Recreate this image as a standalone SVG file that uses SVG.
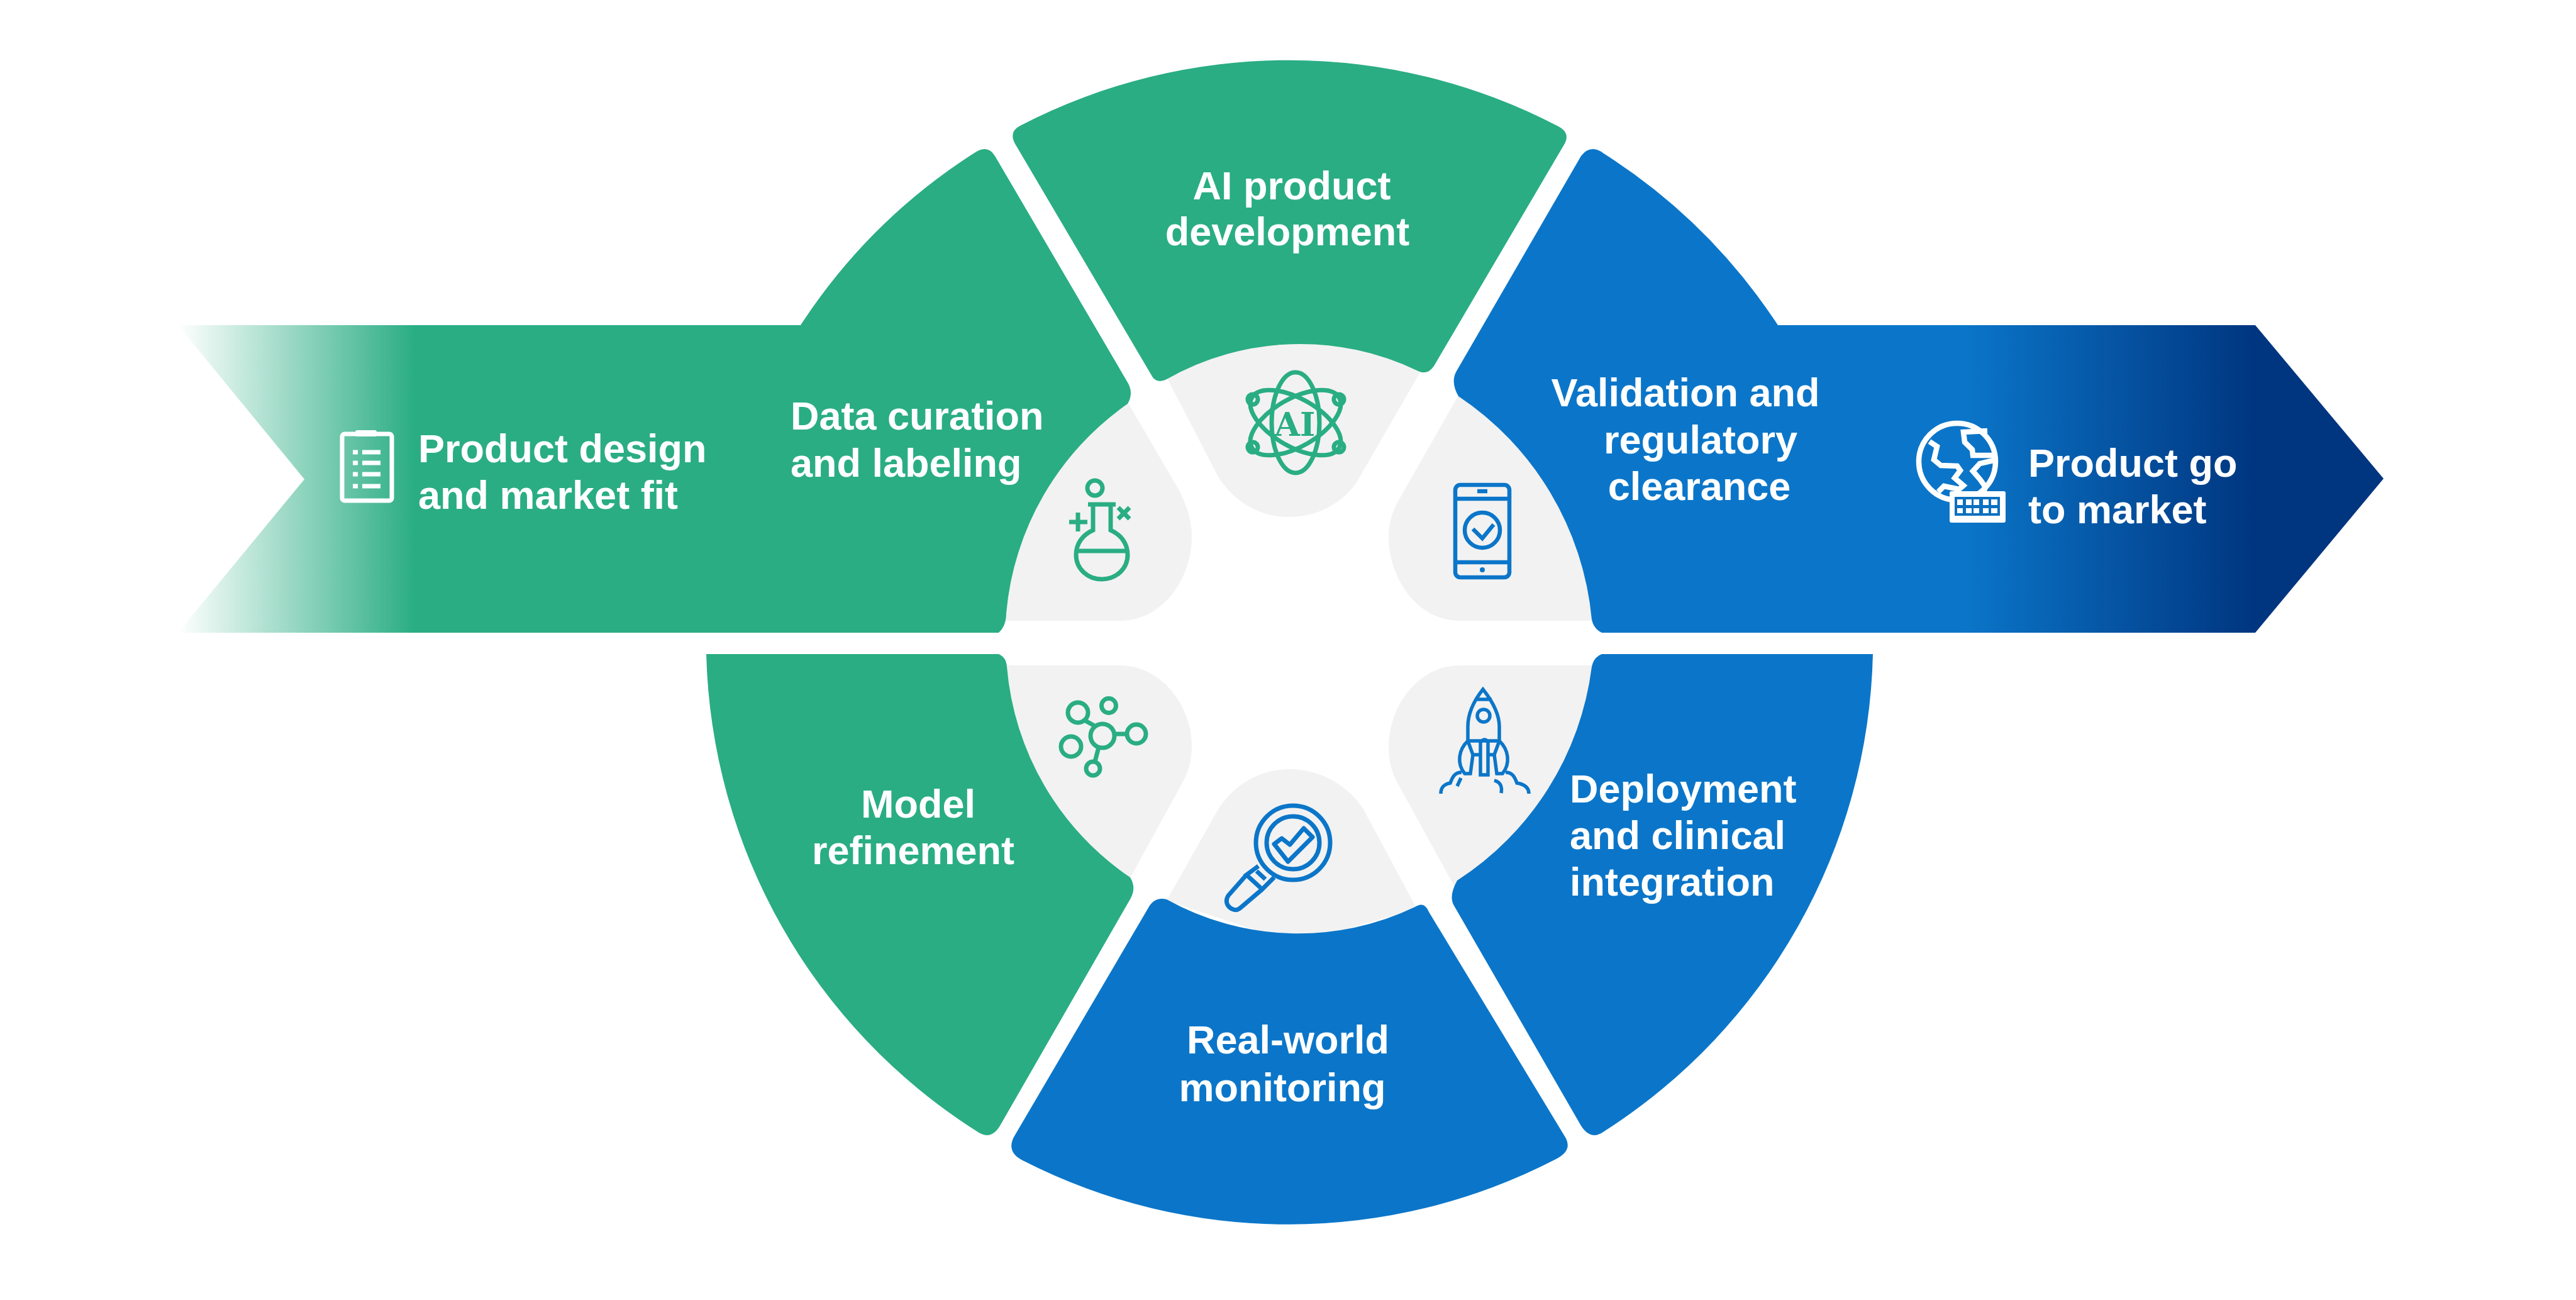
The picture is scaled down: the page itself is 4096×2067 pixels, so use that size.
<svg xmlns="http://www.w3.org/2000/svg" width="4096" height="2067" viewBox="0 0 4096 2067">
<style>
.t{font-family:"Liberation Sans",Arial,sans-serif;font-weight:700;font-size:63px;fill:#fff}
.m{text-anchor:middle}
.petal{fill:#f2f2f2}
.g{fill:#2aad83}
.b{fill:#0b76c9}
.ig{fill:none;stroke:#2aad83;stroke-width:7}
.ib{fill:none;stroke:#0b76c9;stroke-width:6.5}
.iw{fill:none;stroke:#fff;stroke-width:8.5}
</style>
<defs>
<linearGradient id="gf" gradientUnits="userSpaceOnUse" x1="283" y1="0" x2="660" y2="0"><stop offset="0" stop-color="#2aad83" stop-opacity="0"/><stop offset="1" stop-color="#2aad83"/></linearGradient>
<linearGradient id="bf" gradientUnits="userSpaceOnUse" x1="3120" y1="0" x2="3590" y2="0"><stop offset="0" stop-color="#0b76c9"/><stop offset="1" stop-color="#00357f"/></linearGradient>
</defs>
<rect width="4096" height="2067" fill="#fff"/>
<g id="petals">
<path class="petal" d="M1850,590 L1938,760 C1965,800 2005,822 2048,822 C2090,822 2130,805 2157,767 L2265,580 L2060,520 Z"/>
<path class="petal" d="M1791,636 L1875,780 C1888,805 1895,830 1895,852 C1895,925 1845,987 1781,987 L1590,987 L1600,800 Z"/>
<path class="petal" d="M2321,625 L2223,797 C2213,815 2208,835 2208,852 C2208,925 2258,987 2320,987 L2540,987 L2520,800 Z"/>
<path class="petal" d="M1600,1058 L1781,1058 C1845,1058 1895,1120 1895,1187 C1895,1208 1890,1225 1882,1241 L1797,1396 L1600,1250 Z"/>
<path class="petal" d="M2540,1058 L2320,1058 C2258,1058 2208,1120 2208,1187 C2208,1208 2212,1225 2220,1241 L2314,1412 L2520,1250 Z"/>
<path class="petal" d="M1855,1432 L1938,1285 C1965,1245 2005,1223 2051,1223 C2095,1223 2140,1245 2167,1285 L2253,1445 L2060,1500 Z"/>
</g>
<g id="product-design">
<path d="M283,517 L1285,517 L1285,1006 L283,1006 L484,762 Z" fill="url(#gf)"/>
<rect class="iw" x="544" y="690" width="79" height="106" rx="4" style="stroke-width:7"/>
<rect x="565" y="684" width="34" height="10" rx="3" fill="#fff"/>
<g stroke="#fff" stroke-width="7" fill="none"><path d="M561,719h8M576,719h29M561,736h8M576,736h29M561,754h8M576,754h29M561,773h8M576,773h29"/></g>
<text class="t" x="665" y="735">Product design</text>
<text class="t" x="665" y="809">and market fit</text>
</g>
<g id="data-curation">
<path class="g" d="M1270,517 L1273,517 A926,926 0 0 1 1548,244 Q1570,228 1582,248 L1793,608 Q1803,625 1793,642 A455,455 0 0 0 1600,975 Q1600,995 1588,1006 L1270,1006 Z"/>
<text class="t" x="1257" y="683">Data curation</text>
<text class="t" x="1257" y="758">and labeling</text>
<g class="ig">
<circle cx="1741" cy="776" r="12"/>
<path d="M1730,802H1774M1738,802V843C1722,850 1711,864 1711,882C1711,905 1730,921 1752,921C1774,921 1793,905 1793,882C1793,864 1782,850 1766,843V802M1714,876H1790"/>
<path d="M1700,830H1729M1714,815V845M1778,807L1796,825M1796,807L1778,825"/>
</g>
</g>
<g id="ai-development">
<path class="g" d="M1622,200 A926,926 0 0 1 2478,201 Q2498,211 2487,230 L2280,582 Q2270,597 2255,590 A430,430 0 0 0 1855,603 Q1838,612 1830,595 L1616,232 Q1602,210 1622,200 Z"/>
<text class="t m" x="2054" y="317">AI product</text>
<text class="t m" x="2047" y="390">development</text>
<g class="ig">
<ellipse cx="2060" cy="672" rx="38" ry="80"/>
<ellipse cx="2060" cy="672" rx="38" ry="80" transform="rotate(60 2060 672)"/>
<ellipse cx="2060" cy="672" rx="38" ry="80" transform="rotate(-60 2060 672)"/>
<circle cx="1992" cy="635" r="8"/><circle cx="2129" cy="635" r="8"/><circle cx="1992" cy="711" r="8"/><circle cx="2129" cy="711" r="8"/>
</g>
<text x="2059" y="693" text-anchor="middle" font-family="'DejaVu Serif',serif" font-weight="700" font-size="52" fill="#2aad83">AI</text>
</g>
<g id="validation">
<path class="b" d="M2316,590 L2514,248 Q2529,228 2550,244 A926,926 0 0 1 2827,517 L3130,517 L3130,1006 L2547,1006 Q2534,1000 2531,985 A480,480 0 0 0 2319,630 Q2306,607 2316,590 Z"/>
<text class="t m" x="2680" y="646">Validation and</text>
<text class="t m" x="2704" y="721">regulatory</text>
<text class="t m" x="2702" y="795">clearance</text>
<g class="ib">
<rect x="2314" y="771" width="86" height="147" rx="8"/>
<path d="M2314,793H2400M2314,894H2400"/>
<path d="M2349,781H2365M2342,841L2357,856L2375,834"/>
<circle cx="2357" cy="843" r="28"/>
</g>
<circle cx="2357" cy="906" r="4" class="b"/>
</g>
<g id="go-to-market">
<path d="M3120,517 L3586,517 L3790,761 L3586,1006 L3120,1006 Z" fill="url(#bf)"/>
<g class="iw">
<circle cx="3112" cy="734" r="61"/>
<path d="M3068,702L3080,710L3075,731L3086,740L3112,741L3117,748L3108,760L3122,772L3115,778L3091,773L3082,782"/>
<path d="M3160,685L3122,687L3124,703L3136,715L3137,724L3170,724"/>
<path d="M3170,732L3148,737L3137,749L3149,763L3156,773L3155,782"/>
</g>
<rect x="3100" y="781" width="89" height="50" rx="3" fill="#fff"/>
<rect x="3108" y="790" width="72" height="30" fill="#0b70c0"/>
<g fill="#fff">
<rect x="3112" y="794" width="9" height="9"/><rect x="3126" y="794" width="9" height="9"/><rect x="3138" y="794" width="9" height="9"/><rect x="3153" y="794" width="9" height="9"/><rect x="3166" y="794" width="10" height="9"/>
<rect x="3112" y="808" width="9" height="8"/><rect x="3126" y="808" width="9" height="8"/><rect x="3138" y="808" width="9" height="8"/><rect x="3153" y="808" width="9" height="8"/><rect x="3166" y="808" width="10" height="8"/>
</g>
<text class="t" x="3225" y="758">Product go</text>
<text class="t" x="3225" y="832">to market</text>
</g>
<g id="model-refinement">
<path class="g" d="M1123,1040 L1588,1040 Q1600,1045 1601,1060 A450,450 0 0 0 1797,1395 Q1807,1411 1798,1428 L1590,1790 Q1575,1815 1552,1798 A926,926 0 0 1 1123,1040 Z"/>
<text class="t m" x="1460" y="1300">Model</text>
<text class="t m" x="1452" y="1374">refinement</text>
<g class="ig">
<circle cx="1714" cy="1133" r="16"/><circle cx="1763" cy="1122" r="11.5"/><circle cx="1753" cy="1170" r="19"/><circle cx="1807" cy="1167" r="15"/><circle cx="1703" cy="1187" r="16"/><circle cx="1738" cy="1222" r="11"/>
<path d="M1726,1146L1742,1155M1772,1167H1792M1747,1188L1741,1211"/>
</g>
</g>
<g id="deployment">
<path class="b" d="M2978,1040 L2547,1040 Q2534,1045 2531,1060 A475,475 0 0 1 2317,1400 Q2303,1425 2312,1440 L2514,1790 Q2530,1815 2552,1798 A926,926 0 0 0 2978,1040 Z"/>
<text class="t" x="2496" y="1276">Deployment</text>
<text class="t" x="2496" y="1350">and clinical</text>
<text class="t" x="2496" y="1424">integration</text>
<g class="ib" style="stroke-width:5.5">
<path d="M2358,1096C2343,1115 2334,1135 2334,1155V1178H2384V1155C2384,1135 2373,1115 2358,1096ZM2345,1112H2372"/>
<circle cx="2359" cy="1138" r="10"/>
<path d="M2334,1178C2319,1192 2316,1214 2329,1230H2338L2342,1200ZM2384,1178C2399,1192 2402,1214 2389,1230H2380L2376,1200Z"/>
<path d="M2354,1180Q2361,1172 2366,1180V1232H2354ZM2342,1200H2354M2366,1200H2376"/>
<path d="M2291,1262C2291,1252 2296,1247 2306,1245C2310,1234 2314,1228 2324,1228M2323,1237L2317,1250M2431,1262C2431,1252 2424,1247 2412,1245C2408,1234 2404,1228 2394,1228M2376,1241C2385,1243 2389,1250 2387,1261"/>
</g>
</g>
<g id="real-world">
<path class="b" d="M1855,1430 A430,430 0 0 0 2250,1442 Q2265,1432 2272,1450 L2490,1810 Q2500,1830 2474,1843 A926,926 0 0 1 1626,1845 Q1600,1832 1612,1808 L1825,1445 Q1835,1425 1855,1430 Z"/>
<text class="t m" x="2048" y="1675">Real-world</text>
<text class="t m" x="2039" y="1751">monitoring</text>
<g class="ib" style="stroke-width:7">
<circle cx="2056" cy="1340" r="59"/>
<circle cx="2056" cy="1340" r="42"/>
<path d="M2026,1342L2038,1333L2051,1343L2073,1317L2087,1331L2048,1370Z" stroke-linejoin="round"/>
<path d="M2001,1377L1982,1391L2007,1414L2026,1395M1982,1391L1953,1424C1947,1434 1952,1443 1961,1446C1966,1448 1970,1446 1974,1442L2007,1414M1998,1385L2012,1398"/>
</g>
</g>
</svg>
